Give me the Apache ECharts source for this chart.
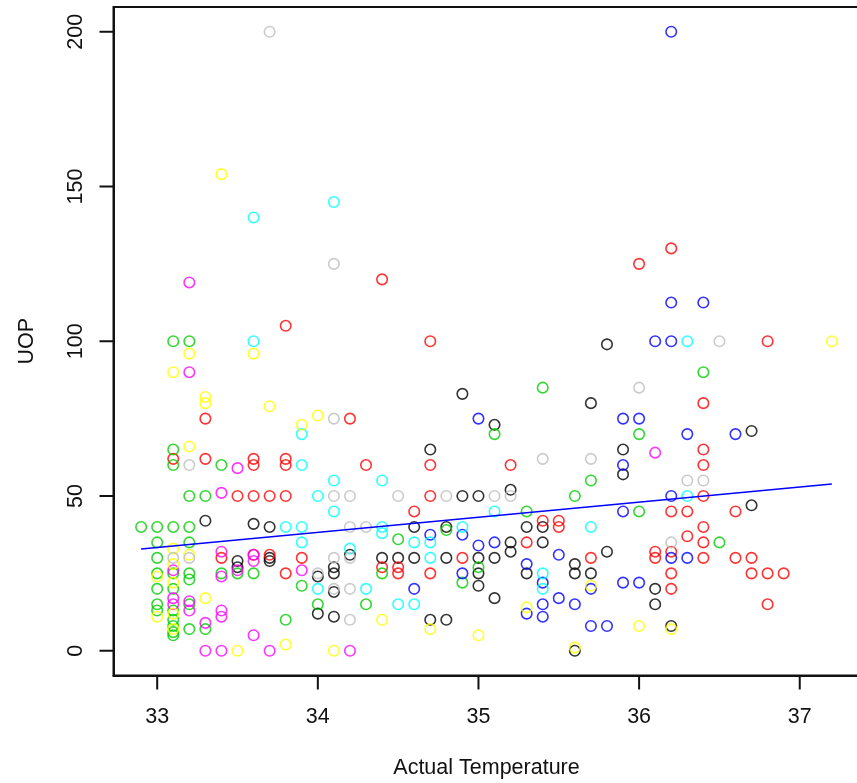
<!DOCTYPE html>
<html><head><meta charset="utf-8">
<script src="https://cdn.jsdelivr.net/npm/echarts@6/dist/echarts.min.js"></script>
<style>html,body{margin:0;padding:0;background:#fff}#c{width:857px;height:783px}</style>
</head><body><div id="c"></div>
<script>
const xTicks = [33, 34, 35, 36, 37];
const yTicks = [0, 50, 100, 150, 200];
const xTitle = 'Actual Temperature';
const yTitle = 'UOP';

const black = [[33.3,42],[33.5,29],[33.5,27],[33.6,41],[33.7,40],[33.7,30],[33.7,29],[34.0,24],[34.0,12],[34.1,27],[34.1,25],[34.1,19],[34.1,11],[34.2,31],[34.4,30],[34.5,30],[34.6,40],[34.6,30],[34.7,65],[34.7,10],[34.8,40],[34.8,30],[34.8,10],[34.9,83],[34.9,50],[35.0,50],[35.0,30],[35.0,25],[35.0,21],[35.1,73],[35.1,30],[35.1,17],[35.2,52],[35.2,35],[35.2,32],[35.3,40],[35.3,25],[35.4,40],[35.4,35],[35.6,28],[35.6,25],[35.6,0],[35.7,80],[35.7,25],[35.8,99],[35.8,32],[35.9,65],[35.9,57],[36.1,20],[36.1,15],[36.2,8],[36.7,71],[36.7,47]];
const red = [[33.1,62],[33.3,75],[33.3,62],[33.4,30],[33.5,50],[33.6,62],[33.6,60],[33.6,50],[33.6,31],[33.7,50],[33.7,31],[33.8,105],[33.8,62],[33.8,60],[33.8,50],[33.8,25],[33.9,30],[34.2,75],[34.3,60],[34.4,120],[34.4,27],[34.5,27],[34.5,25],[34.6,45],[34.7,100],[34.7,60],[34.7,50],[34.7,25],[34.9,30],[35.2,60],[35.3,35],[35.4,42],[35.5,42],[35.5,40],[35.7,30],[36.0,125],[36.1,32],[36.1,30],[36.2,130],[36.2,45],[36.2,32],[36.2,25],[36.2,20],[36.3,45],[36.3,37],[36.4,80],[36.4,65],[36.4,60],[36.4,50],[36.4,40],[36.4,35],[36.4,30],[36.6,45],[36.6,30],[36.7,30],[36.7,25],[36.8,100],[36.8,25],[36.8,15],[36.9,25]];
const green = [[32.9,40],[33.0,40],[33.0,35],[33.0,30],[33.0,25],[33.0,20],[33.0,15],[33.0,13],[33.1,100],[33.1,65],[33.1,60],[33.1,40],[33.1,25],[33.1,20],[33.1,13],[33.1,10],[33.1,8],[33.1,6],[33.1,5],[33.2,100],[33.2,50],[33.2,40],[33.2,35],[33.2,25],[33.2,23],[33.2,15],[33.2,7],[33.3,50],[33.3,7],[33.4,60],[33.4,25],[33.5,25],[33.6,25],[33.8,10],[33.9,21],[34.0,15],[34.3,15],[34.4,25],[34.5,36],[34.8,39],[34.9,22],[35.0,27],[35.1,70],[35.3,45],[35.4,85],[35.6,50],[35.7,55],[36.0,70],[36.0,45],[36.4,90],[36.5,35]];
const blue = [[34.6,20],[34.7,37.5],[34.9,37.5],[34.9,25],[35.0,75],[35.0,34],[35.1,35],[35.3,28],[35.3,12],[35.4,22],[35.4,15],[35.4,11],[35.5,31],[35.5,17],[35.6,15],[35.7,20],[35.7,8],[35.8,8],[35.9,75],[35.9,60],[35.9,45],[35.9,22],[36.0,75],[36.0,22],[36.1,100],[36.2,200],[36.2,112.5],[36.2,100],[36.2,50],[36.2,30],[36.3,70],[36.3,30],[36.4,112.5],[36.6,70]];
const cyan = [[33.6,140],[34.1,145],[33.6,100],[33.8,40],[33.9,70],[33.9,60],[33.9,40],[33.9,35],[34.0,50],[34.0,20],[34.1,55],[34.1,45],[34.2,33],[34.3,20],[34.4,55],[34.4,40],[34.4,38],[34.5,15],[34.6,35],[34.6,15],[34.7,35],[34.7,30],[34.9,40],[35.1,45],[35.4,25],[35.4,20],[35.7,40],[36.3,100],[36.3,50]];
const magenta = [[33.1,26],[33.1,17],[33.1,15],[33.2,119],[33.2,90],[33.2,16],[33.2,13],[33.3,9],[33.3,0],[33.4,51],[33.4,32],[33.4,24],[33.4,13],[33.4,11],[33.4,0],[33.5,59],[33.5,26],[33.6,31],[33.6,29],[33.6,5],[33.7,0],[33.9,26],[34.2,0],[36.1,64]];
const yellow = [[33.0,24],[33.0,11],[33.1,90],[33.1,33],[33.1,28],[33.1,22],[33.1,12],[33.1,7],[33.2,96],[33.2,66],[33.2,31],[33.3,82],[33.3,80],[33.3,17],[33.4,154],[33.5,0],[33.6,96],[33.7,79],[33.8,2],[33.9,73],[34.0,76],[34.1,0],[34.4,10],[34.7,7],[35.0,5],[35.3,14],[35.6,1],[35.7,21],[36.0,8],[36.2,7],[37.2,100]];
const gray = [[33.1,30],[33.2,60],[33.2,30],[33.7,200],[34.0,25],[34.1,125],[34.1,75],[34.1,50],[34.1,30],[34.1,20],[34.2,50],[34.2,40],[34.2,30],[34.2,20],[34.2,10],[34.3,40],[34.5,50],[34.8,50],[35.1,50],[35.2,50],[35.4,62],[35.7,62],[36.0,85],[36.2,35],[36.3,55],[36.4,55],[36.5,100]];
const fitLine = [[32.9, 32.9], [37.2, 53.9]];

const groups = [
  ['black', black, '#000000'],
  ['red', red, '#FF0000'],
  ['green', green, '#00CD00'],
  ['blue', blue, '#0000FF'],
  ['cyan', cyan, '#00FFFF'],
  ['magenta', magenta, '#FF00FF'],
  ['yellow', yellow, '#FFFF00'],
  ['gray', gray, '#BEBEBE']
];

const X_MIN = 32.728, X_MAX = 37.372, Y_MIN = -8, Y_MAX = 208;
const FONT = 'Liberation Sans, Arial, sans-serif';
const chart = echarts.init(document.getElementById('c'), null, {renderer: 'canvas'});
const series = groups.map(([name, data, col]) => ({
  name, type: 'scatter', data, symbol: 'circle', symbolSize: 10.5, silent: true,
  itemStyle: {color: 'rgba(0,0,0,0)', borderColor: col, borderWidth: 1.6}
}));
series.push({
  name: 'fit', type: 'line', data: fitLine, showSymbol: false, silent: true,
  lineStyle: {color: '#0000FF', width: 1.5}
});

chart.setOption({
  animation: false,
  backgroundColor: '#fff',
  grid: {left: 113.5, top: 7, width: 746, height: 668.5, show: true, borderColor: '#111', borderWidth: 2,
         containLabel: false, outerBoundsMode: 'none'},
  xAxis: {
    type: 'value', min: X_MIN, max: X_MAX,
    name: xTitle, nameLocation: 'middle', nameGap: 82,
    nameTextStyle: {fontFamily: FONT, fontSize: 21.5, color: '#111'},
    axisLine: {show: true, onZero: false, lineStyle: {color: '#111', width: 2}},
    splitLine: {show: false},
    axisTick: {show: false},
    axisLabel: {show: true, customValues: xTicks, margin: 31, fontFamily: FONT, fontSize: 21.5, color: '#111',
                formatter: v => String(v)}
  },
  yAxis: {
    type: 'value', min: Y_MIN, max: Y_MAX,
    name: yTitle, nameLocation: 'middle', nameGap: 75,
    nameTextStyle: {fontFamily: FONT, fontSize: 21.5, color: '#111'},
    axisLine: {show: true, onZero: false, lineStyle: {color: '#111', width: 2}},
    splitLine: {show: false},
    axisTick: {show: false},
    axisLabel: {show: true, customValues: yTicks, rotate: 90, margin: 26, fontFamily: FONT, fontSize: 21.5, color: '#111',
                formatter: v => String(v)}
  },
  series
});

// Outward tick marks, positioned through the chart's own scales
const TICK = 14;
const tickEls = [];
const toPx = (pt) => chart.convertToPixel({xAxisIndex: 0, yAxisIndex: 0}, pt);
xTicks.forEach(v => {
  const p = toPx([v, Y_MIN]);
  tickEls.push({type: 'line', silent: true, shape: {x1: p[0], y1: p[1], x2: p[0], y2: p[1] + TICK},
                style: {stroke: '#111', lineWidth: 2}});
});
yTicks.forEach(v => {
  const p = toPx([X_MIN, v]);
  tickEls.push({type: 'line', silent: true, shape: {x1: p[0], y1: p[1], x2: p[0] - TICK, y2: p[1]},
                style: {stroke: '#111', lineWidth: 2}});
});
chart.setOption({graphic: {elements: tickEls}});
</script></body></html>
